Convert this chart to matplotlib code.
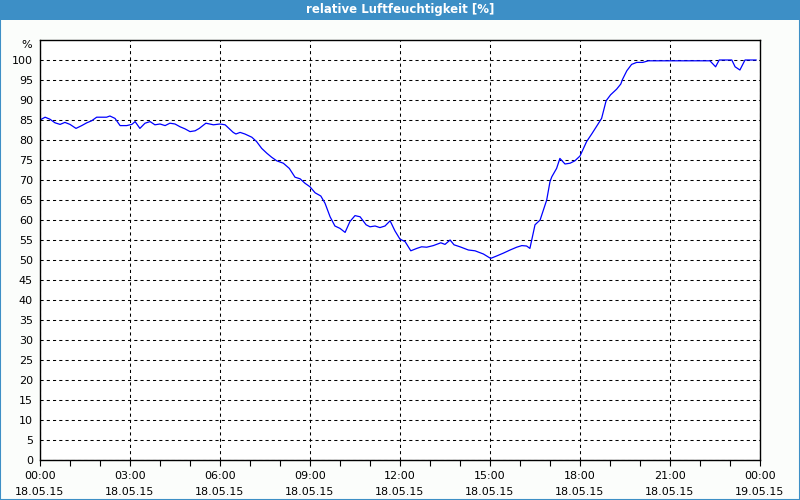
import matplotlib
matplotlib.use('Agg')
import matplotlib.pyplot as plt
from matplotlib.patches import Rectangle

# time in hours since 18.05.15 00:00, relative humidity in %
hours = [0.0, 0.17, 0.33, 0.5, 0.67, 0.83, 1.0, 1.2, 1.39, 1.56, 1.72, 1.89,
         2.22, 2.33, 2.5, 2.67, 2.89, 3.06, 3.17, 3.33, 3.5, 3.67, 3.83, 4.0,
         4.17, 4.33, 4.5, 4.67, 4.83, 5.0, 5.17, 5.31, 5.53, 5.78, 6.0, 6.17,
         6.44, 6.53, 6.67, 6.83, 7.06, 7.22, 7.39, 7.56, 7.72, 7.89, 8.11,
         8.31, 8.5, 8.67, 8.83, 9.0, 9.17, 9.36, 9.5, 9.67, 9.83, 10.0, 10.17,
         10.33, 10.5, 10.67, 10.87, 11.0, 11.17, 11.33, 11.5, 11.67, 11.83,
         12.0, 12.17, 12.36, 12.56, 12.72, 12.89, 13.11, 13.36, 13.5, 13.67,
         13.8, 14.0, 14.28, 14.5, 14.78, 15.02, 15.22, 15.44, 15.67, 15.89,
         16.06, 16.22, 16.33, 16.44, 16.5, 16.67, 16.78, 16.89, 17.0, 17.06,
         17.22, 17.33, 17.5, 17.67, 17.83, 18.0, 18.22, 18.39, 18.56, 18.72,
         18.87, 19.02, 19.22, 19.36, 19.42, 19.56, 19.72, 19.89, 20.09, 20.28,
         22.33, 22.52, 22.64, 23.06, 23.17, 23.33, 23.5, 23.87]
humidity = [85.0, 85.7, 85.2, 84.3, 83.9, 84.4, 83.9, 82.9, 83.6, 84.3, 84.8,
            85.7, 85.7, 86.0, 85.4, 83.6, 83.6, 83.9, 84.6, 82.9, 84.2, 84.6,
            83.8, 84.0, 83.6, 84.2, 84.0, 83.3, 82.8, 82.1, 82.3, 82.9, 84.2,
            83.8, 84.0, 83.8, 81.9, 81.5, 81.9, 81.5, 80.7, 79.6, 77.9, 76.7,
            75.7, 74.8, 74.2, 72.9, 70.7, 70.3, 69.2, 68.3, 66.8, 66.0, 64.2,
            60.8, 58.5, 57.9, 56.9, 59.6, 61.1, 60.8, 58.8, 58.3, 58.5, 58.1,
            58.5, 59.8, 57.3, 55.2, 54.6, 52.3, 52.9, 53.3, 53.2, 53.6, 54.3,
            53.9, 55.0, 53.8, 53.3, 52.5, 52.3, 51.5, 50.4, 51.0, 51.7, 52.5,
            53.2, 53.6, 53.5, 52.9, 56.7, 58.8, 60.0, 62.5, 65.0, 69.6, 70.8,
            72.9, 75.4, 74.0, 74.2, 74.8, 76.0, 79.6, 81.5, 83.5, 85.4, 89.8,
            91.3, 92.7, 94.0, 95.2, 97.3, 98.9, 99.4, 99.4, 99.8, 99.8, 98.3,
            100.0, 100.0, 98.3, 97.5, 100.0, 100.0]

xticks = [0, 3, 6, 9, 12, 15, 18, 21, 24]
xlabels = ['00:00\n18.05.15', '03:00\n18.05.15', '06:00\n18.05.15',
           '09:00\n18.05.15', '12:00\n18.05.15', '15:00\n18.05.15',
           '18:00\n18.05.15', '21:00\n18.05.15', '00:00\n19.05.15']
yticks = list(range(0, 101, 5))

bg = '#fbfdfb'
bar = '#3d8fc6'

fig = plt.figure(figsize=(8, 5), dpi=100, facecolor=bg)

# title bar and frame
fig.patches.append(Rectangle((0, 0.96), 1, 0.04, transform=fig.transFigure,
                             facecolor=bar, edgecolor='none', zorder=0))
fig.patches.append(Rectangle((0.0006, 0.001), 0.9988, 0.998, transform=fig.transFigure,
                             facecolor='none', edgecolor=bar, lw=1.5, zorder=1))
fig.text(0.5, 0.98, 'relative Luftfeuchtigkeit [%]', color='white',
         fontsize=8.5, fontweight='bold', ha='center', va='center')

ax = fig.add_axes([0.05, 0.08, 0.90, 0.84])
ax.set_facecolor('white')
ax.plot(hours, humidity, color='#0000ff', lw=0.9)

ax.set_xlim(0, 24)
ax.set_ylim(0, 105)
ax.set_xticks(xticks)
ax.set_xticklabels(xlabels, fontsize=8, linespacing=1.75)
ax.set_xticks(range(0, 25), minor=True)
ax.set_yticks(yticks)
ax.set_yticklabels([str(v) for v in yticks], fontsize=8)

ax.tick_params(axis='x', which='both', direction='out', length=4, width=0.8, pad=4)
ax.tick_params(axis='y', length=0, pad=5)

# dashed grid, roughly 3px on / 3px off
ax.grid(True, which='major', color='black', linestyle=(0, (3, 3)), lw=0.75)
ax.set_axisbelow(True)
for s in ax.spines.values():
    s.set_linewidth(1.0)

fig.text(0.04, 0.91, '%', fontsize=8, ha='right', va='center')

fig.savefig('out.png', dpi=100, facecolor=bg)
